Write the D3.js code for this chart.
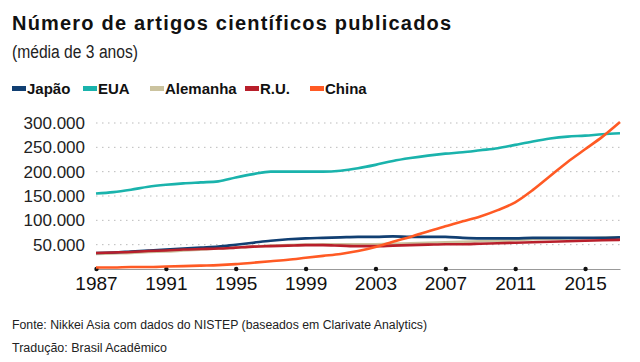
<!DOCTYPE html>
<html>
<head>
<meta charset="utf-8">
<script src="https://cdn.jsdelivr.net/npm/d3@7"></script>
<style>
  body { margin: 0; background: #fff; }
  svg { display: block; }
</style>
</head>
<body>
<div id="chart"></div>
<script>
// years 1987..2017 (3-year moving average)
var years = d3.range(1987, 2018);

// values, in articles
var japao = [33, 34, 36, 38, 40, 42, 44, 46, 50, 54, 58, 61, 63, 64, 65, 66, 66, 67, 66, 66, 66, 64, 63, 63, 63, 64, 64, 64, 64, 64, 65].map(function (v) { return v * 1000; });
var eua = [155, 158, 163, 169, 173, 176, 178, 180, 188, 195, 200, 200, 200, 200, 202, 207, 214, 222, 228, 233, 237, 240, 244, 248, 255, 262, 268, 272, 274, 277, 279].map(function (v) { return v * 1000; });
var alemanha = [31, 32, 33, 35, 36, 38, 40, 42, 44, 46, 48, 49, 50, 51, 51, 51, 51, 52, 53, 54, 55, 56, 57, 58, 59, 61, 62, 63, 63, 64, 65].map(function (v) { return v * 1000; });
var ru = [33, 34, 35, 37, 38, 40, 41, 42, 44, 46, 47, 48, 49, 49, 48, 47, 47, 48, 49, 50, 51, 51, 52, 53, 54, 55, 56, 57, 58, 59, 60].map(function (v) { return v * 1000; });
var china = [3, 3, 4, 4, 5, 6, 7, 8, 10, 13, 16, 19, 23, 27, 31, 37, 45, 56, 66, 77, 88, 98, 108, 121, 137, 162, 191, 220, 246, 272, 302].map(function (v) { return v * 1000; });

var yTicks = [50000, 100000, 150000, 200000, 250000, 300000];
var xTicks = [1987, 1991, 1995, 1999, 2003, 2007, 2011, 2015];

var series = [
  { name: "Japão", values: japao, color: "#113f72" },
  { name: "EUA", values: eua, color: "#1ab3ac" },
  { name: "Alemanha", values: alemanha, color: "#cbc39f" },
  { name: "R.U.", values: ru, color: "#b81f2b" },
  { name: "China", values: china, color: "#ff5a24" }
];
// drawing order (last on top)
var drawOrder = ["Alemanha", "Japão", "R.U.", "EUA", "China"];

var width = 640, height = 362;
var svg = d3.select("#chart").append("svg")
  .attr("width", width)
  .attr("height", height);

var x = d3.scaleLinear().domain([1987, 2017]).range([96, 620]);
var y = d3.scaleLinear().domain([0, 300000]).range([269, 123]);

// title
svg.append("text")
  .attr("x", 12).attr("y", 30)
  .attr("font-family", "Liberation Sans, Arial, sans-serif")
  .attr("font-weight", "bold")
  .attr("font-size", 20)
  .attr("letter-spacing", 1.2)
  .attr("fill", "#111")
  .text("Número de artigos científicos publicados");

svg.append("text")
  .attr("x", 12).attr("y", 58)
  .attr("font-family", "Liberation Sans, Arial, sans-serif")
  .attr("font-size", 18)
  .attr("textLength", 126)
  .attr("lengthAdjust", "spacingAndGlyphs")
  .attr("fill", "#222")
  .text("(média de 3 anos)");

// legend
var legendX = [12, 83, 150, 245, 310];
var legend = svg.selectAll(".legend")
  .data(series)
  .enter().append("g")
  .attr("class", "legend")
  .attr("transform", function (d, i) { return "translate(" + legendX[i] + ",86)"; });

legend.append("rect")
  .attr("x", 0).attr("y", 0)
  .attr("width", 14).attr("height", 5)
  .attr("fill", function (d) { return d.color; });

legend.append("text")
  .attr("x", 15).attr("y", 8)
  .attr("font-family", "Liberation Sans, Arial, sans-serif")
  .attr("font-weight", "bold")
  .attr("font-size", 15)
  .attr("fill", "#111")
  .text(function (d) { return d.name; });

// grid lines
svg.selectAll(".grid")
  .data(yTicks)
  .enter().append("line")
  .attr("class", "grid")
  .attr("x1", 96).attr("x2", 620)
  .attr("y1", function (d) { return y(d); })
  .attr("y2", function (d) { return y(d); })
  .attr("stroke", "#bbb")
  .attr("stroke-width", 1)
  .attr("stroke-dasharray", "1.5,4.5");

// y axis labels
var fmt = function (d) { return d3.format(",")(d).replace(/,/g, "."); };
var yAxis = d3.axisLeft(y).tickValues(yTicks).tickSize(0).tickPadding(0).tickFormat(fmt);
var gy = svg.append("g").attr("transform", "translate(85,0)").call(yAxis);
gy.select(".domain").remove();
gy.selectAll("text")
  .attr("font-family", "Liberation Sans, Arial, sans-serif")
  .attr("font-size", 17)
  .attr("fill", "#222");

// x axis
var xAxis = d3.axisBottom(x).tickValues(xTicks).tickSize(0).tickPadding(8).tickFormat(d3.format("d"));
var gx = svg.append("g").attr("transform", "translate(0," + y(0) + ")").call(xAxis);
gx.select(".domain").attr("stroke", "#999").attr("stroke-width", 1.2);
gx.selectAll("text")
  .attr("font-family", "Liberation Sans, Arial, sans-serif")
  .attr("font-size", 19)
  .attr("fill", "#111");
gx.selectAll(".tick").append("circle")
  .attr("r", 2.2)
  .attr("fill", "#111");

// lines
var line = d3.line()
  .x(function (d, i) { return x(years[i]); })
  .y(function (d) { return y(d); })
  .curve(d3.curveMonotoneX);

var ordered = drawOrder.map(function (n) { return series.find(function (s) { return s.name === n; }); });
svg.selectAll(".serie")
  .data(ordered)
  .enter().append("path")
  .attr("class", "serie")
  .attr("d", function (d) { return line(d.values); })
  .attr("fill", "none")
  .attr("stroke", function (d) { return d.color; })
  .attr("stroke-width", 2.6)
  .attr("stroke-linejoin", "round");

// footer
svg.append("text")
  .attr("x", 12).attr("y", 329)
  .attr("font-family", "Liberation Sans, Arial, sans-serif")
  .attr("font-size", 12.5)
  .attr("textLength", 415)
  .attr("lengthAdjust", "spacingAndGlyphs")
  .attr("fill", "#222")
  .text("Fonte: Nikkei Asia com dados do NISTEP (baseados em Clarivate Analytics)");

svg.append("text")
  .attr("x", 12).attr("y", 352)
  .attr("font-family", "Liberation Sans, Arial, sans-serif")
  .attr("font-size", 12.5)
  .attr("textLength", 155)
  .attr("lengthAdjust", "spacingAndGlyphs")
  .attr("fill", "#222")
  .text("Tradução: Brasil Acadêmico");
</script>
</body>
</html>
